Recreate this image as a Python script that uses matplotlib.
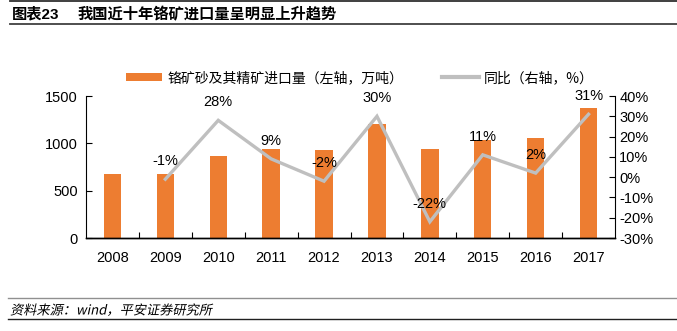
import matplotlib
matplotlib.use("Agg")
import matplotlib.pyplot as plt
from matplotlib.patches import Patch
from matplotlib.lines import Line2D
from matplotlib.ticker import FuncFormatter, FixedLocator
from matplotlib.patheffects import AbstractPathEffect
from matplotlib.transforms import Affine2D

plt.rcParams['font.family'] = ['Liberation Sans', 'Noto Sans CJK SC', 'DejaVu Sans']

years = ['2008', '2009', '2010', '2011', '2012', '2013', '2014', '2015', '2016', '2017']
imports = [676, 673, 862, 939, 928, 1202, 936, 1034, 1055, 1378]   # 万吨
yoy = [None, -1, 28, 9, -2, 30, -22, 11, 2, 31]                      # %
bar_label = '铬矿砂及其精矿进口量（左轴，万吨）'
line_label = '同比（右轴，%）'
title_num = '图表23'
title_text = '我国近十年铬矿进口量呈明显上升趋势'
source_text = '资料来源：wind，平安证券研究所'

ORANGE = '#ED7D31'
GRAY = '#BFBFBF'


class Oblique(AbstractPathEffect):
    """Slant glyphs for fonts without an italic face."""
    def __init__(self, angle=12):
        super().__init__()
        self.angle = angle

    def draw_path(self, renderer, gc, tpath, affine, rgbFace=None):
        renderer.draw_path(gc, tpath, Affine2D().skew_deg(self.angle, 0) + affine, rgbFace)


fig = plt.figure(figsize=(6.77, 3.31), dpi=100)
ax = fig.add_axes([86 / 677, 1 - 238 / 331, (615 - 86) / 677, (238 - 96) / 331])
ax2 = ax.twinx()

x = list(range(len(years)))
ax.bar(x, imports, width=0.33, color=ORANGE, zorder=2)
ax.set_xlim(-0.5, len(years) - 0.5)
ax.set_ylim(0, 1500)
ax.set_yticks([0, 500, 1000, 1500])
ax.set_xticks(x)
ax.set_xticklabels(years)
ax.xaxis.set_minor_locator(FixedLocator([i + 0.5 for i in range(len(years) - 1)]))
ax.tick_params(axis='x', which='major', length=0, pad=9, labelsize=10.5)
ax.tick_params(axis='x', which='minor', length=4, direction='in', width=0.8)
ax.tick_params(axis='y', direction='in', length=4, width=0.8, labelsize=10.5, pad=6)

lx = [i for i, v in enumerate(yoy) if v is not None]
ly = [v for v in yoy if v is not None]
ax2.plot(lx, ly, color=GRAY, lw=2.4, zorder=3, solid_joinstyle='miter')
ax2.set_ylim(-30, 40)
ax2.set_yticks(range(-30, 41, 10))
ax2.yaxis.set_major_formatter(FuncFormatter(lambda v, p: f'{int(v)}%'))
ax2.tick_params(axis='y', direction='in', length=4, width=0.8, labelsize=10.5, pad=3)
for xi, yi in zip(lx, ly):
    ax2.annotate(f'{yi}%', (xi, yi), xytext=(0, 8), textcoords='offset points',
                 ha='center', va='bottom', fontsize=10.5, zorder=4)

for a in (ax, ax2):
    a.spines['top'].set_visible(False)
    a.spines['left'].set_visible(a is ax)
    a.spines['right'].set_visible(a is ax2)
    a.spines['bottom'].set_linewidth(1.0)
ax.spines['left'].set_linewidth(0.8)
ax2.spines['right'].set_linewidth(0.8)

handles = [Patch(facecolor=ORANGE, edgecolor='none'),
           Line2D([0], [0], color=GRAY, lw=3)]
fig.legend(handles, [bar_label, line_label], loc='center',
           bbox_to_anchor=(360 / 677, 1 - 78 / 331), ncol=2, frameon=False,
           handlelength=2.6, handleheight=0.55, columnspacing=2.8,
           handletextpad=0.4,
           prop={'family': ['Noto Sans CJK SC', 'DejaVu Sans'], 'size': 10})

# header
fig.add_artist(Line2D([10 / 677, 1], [1 - 0.5 / 331] * 2, color='#303030', lw=1.3,
                      transform=fig.transFigure))
fig.text(12 / 677, 1 - 14 / 331, title_num, fontsize=11, fontweight='bold',
         va='center', ha='left', family=['Liberation Sans', 'Noto Sans CJK SC'])
fig.text(78 / 677, 1 - 14 / 331, title_text, fontsize=11, fontweight='bold',
         va='center', ha='left', family=['Noto Sans CJK SC', 'DejaVu Sans'])
fig.add_artist(Line2D([10 / 677, 1], [1 - 23.5 / 331] * 2, color='#404040', lw=1.3,
                      transform=fig.transFigure))

# footer
fig.add_artist(Line2D([8 / 677, 1], [1 - 298 / 331] * 2, color='#909090', lw=1.0,
                      transform=fig.transFigure))
fig.add_artist(Line2D([8 / 677, 1], [1 - 319 / 331] * 2, color='#202020', lw=1.0,
                      transform=fig.transFigure))
fig.text(10 / 677, 1 - 311 / 331, source_text, fontsize=9.5,
         va='center', ha='left', family=['Noto Sans CJK SC', 'DejaVu Sans'],
         path_effects=[Oblique(12)])

fig.savefig('out.png', dpi=100)
